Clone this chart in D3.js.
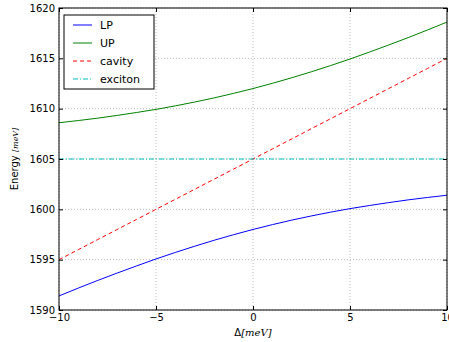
<!DOCTYPE html>
<html>
<head>
<meta charset="utf-8">
<script src="https://cdn.jsdelivr.net/npm/d3@7"></script>
<style>
  body { margin: 0; background: #fff; }
  svg { display: block; }
  text { font-family: "DejaVu Sans", sans-serif; }
</style>
</head>
<body>
<script>
// Detuning values (meV)
const detuning = [-10, -9, -8, -7, -6, -5, -4, -3, -2, -1, 0, 1, 2, 3, 4, 5, 6, 7, 8, 9, 10];
// Lower polariton energy (meV)
const lowerPolariton = [1591.40, 1592.18, 1592.94, 1593.67, 1594.38, 1595.07, 1595.72, 1596.34, 1596.93, 1597.48, 1598.00,
                        1598.48, 1598.93, 1599.34, 1599.72, 1600.07, 1600.38, 1600.67, 1600.94, 1601.18, 1601.40];
// Upper polariton energy (meV)
const upperPolariton = [1608.60, 1608.82, 1609.06, 1609.33, 1609.62, 1609.93, 1610.28, 1610.66, 1611.07, 1611.52, 1612.00,
                        1612.52, 1613.07, 1613.66, 1614.28, 1614.93, 1615.62, 1616.33, 1617.06, 1617.82, 1618.60];
// Bare cavity mode (meV)
const cavity = [1595, 1596, 1597, 1598, 1599, 1600, 1601, 1602, 1603, 1604, 1605,
                1606, 1607, 1608, 1609, 1610, 1611, 1612, 1613, 1614, 1615];
// Bare exciton (meV)
const exciton = [1605, 1605, 1605, 1605, 1605, 1605, 1605, 1605, 1605, 1605, 1605,
                 1605, 1605, 1605, 1605, 1605, 1605, 1605, 1605, 1605, 1605];

const xTicks = [-10, -5, 0, 5, 10];
const yTicks = [1590, 1595, 1600, 1605, 1610, 1615, 1620];

const seriesNames = ["LP", "UP", "cavity", "exciton"];
const seriesValues = [lowerPolariton, upperPolariton, cavity, exciton];
const seriesColors = ["#0000ff", "#008000", "#ff0000", "#00bfbf"];
const seriesDash = [null, null, "4,3", "5,2,1,2"];

const W = 449, H = 342;
const margin = { left: 59, right: 2, top: 8, bottom: 32 };
const pw = W - margin.left - margin.right;
const ph = H - margin.top - margin.bottom;

const svg = d3.select("body").append("svg").attr("width", W).attr("height", H);
const g = svg.append("g").attr("transform", `translate(${margin.left},${margin.top})`);

const x = d3.scaleLinear().domain([-10, 10]).range([0, pw]);
const y = d3.scaleLinear().domain([1590, 1620]).range([ph, 0]);

// dotted grid
g.append("g").selectAll("line").data(xTicks).join("line")
  .attr("x1", d => x(d)).attr("x2", d => x(d)).attr("y1", 0).attr("y2", ph)
  .attr("stroke", "#000").attr("stroke-opacity", 0.45).attr("stroke-width", 0.6).attr("stroke-dasharray", "1,2");
g.append("g").selectAll("line").data(yTicks).join("line")
  .attr("y1", d => y(d)).attr("y2", d => y(d)).attr("x1", 0).attr("x2", pw)
  .attr("stroke", "#000").attr("stroke-opacity", 0.45).attr("stroke-width", 0.6).attr("stroke-dasharray", "1,2");

// curves
const line = d3.line().x((d, i) => x(detuning[i])).y(d => y(d));
const clip = svg.append("defs").append("clipPath").attr("id", "clip")
  .append("rect").attr("width", pw).attr("height", ph);
const curves = g.append("g").attr("clip-path", "url(#clip)");
seriesValues.forEach((vals, k) => {
  curves.append("path").datum(vals).attr("d", line)
    .attr("fill", "none").attr("stroke", seriesColors[k]).attr("stroke-width", 1)
    .attr("stroke-dasharray", seriesDash[k]);
});

// axes (ticks inward on all sides)
const axisStyle = sel => {
  sel.select(".domain").remove();
  sel.selectAll("text").attr("font-size", 10).attr("fill", "#000").attr("font-family", "DejaVu Sans, sans-serif");
  sel.selectAll(".tick line").attr("stroke", "#000");
};
const fmtX = d => d < 0 ? "\u2212" + Math.abs(d) : String(d);
g.append("g").attr("transform", `translate(0,${ph})`)
  .call(d3.axisBottom(x).tickValues(xTicks).tickSizeInner(-4).tickSizeOuter(0).tickPadding(4).tickFormat(fmtX))
  .call(axisStyle);
g.append("g")
  .call(d3.axisLeft(y).tickValues(yTicks).tickSizeInner(-4).tickSizeOuter(0).tickPadding(4).tickFormat(d3.format("d")))
  .call(axisStyle);
g.append("g")
  .call(d3.axisTop(x).tickValues(xTicks).tickSizeInner(-4).tickSizeOuter(0).tickFormat(""))
  .call(axisStyle);
g.append("g").attr("transform", `translate(${pw},0)`)
  .call(d3.axisRight(y).tickValues(yTicks).tickSizeInner(-4).tickSizeOuter(0).tickFormat(""))
  .call(axisStyle);

// frame
g.append("rect").attr("width", pw).attr("height", ph)
  .attr("fill", "none").attr("stroke", "#000").attr("stroke-width", 1);

// axis labels
const xl = svg.append("text").attr("x", margin.left + x(0)).attr("y", H - 6)
  .attr("text-anchor", "middle").attr("font-size", 10).attr("fill", "#000");
xl.append("tspan").text("\u0394");
xl.append("tspan").attr("font-family", "DejaVu Serif, serif").attr("font-style", "italic").attr("font-size", 10).text("[meV]");

const yl = svg.append("text")
  .attr("transform", `translate(18,${margin.top + ph / 2}) rotate(-90)`)
  .attr("text-anchor", "middle").attr("font-size", 10).attr("fill", "#000");
yl.append("tspan").text("Energy ");
yl.append("tspan").attr("font-family", "DejaVu Serif, serif").attr("font-style", "italic").attr("font-size", 8).text("[meV]");

// legend
const lg = g.append("g").attr("transform", "translate(5,7)");
lg.append("rect").attr("width", 90).attr("height", 74)
  .attr("fill", "#fff").attr("stroke", "#000").attr("stroke-width", 1);
seriesNames.forEach((name, k) => {
  const yy = 10 + k * 18;
  lg.append("line").attr("x1", 9).attr("x2", 28).attr("y1", yy).attr("y2", yy)
    .attr("stroke", seriesColors[k]).attr("stroke-width", 1).attr("stroke-dasharray", seriesDash[k]);
  lg.append("text").attr("x", 36).attr("y", yy).attr("dy", "0.35em")
    .attr("font-size", 11).attr("fill", "#000").text(name);
});
</script>
</body>
</html>
